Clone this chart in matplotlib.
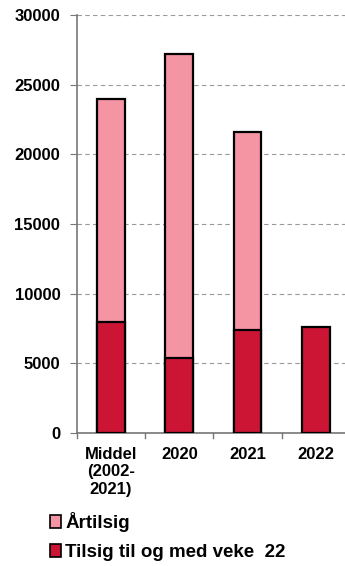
import numpy as np
import matplotlib
matplotlib.use("Agg")
import matplotlib.pyplot as plt
from matplotlib.patches import Patch

categories = ["Middel\n(2002-\n2021)", "2020", "2021", "2022"]
aartilsig = [24000, 27200, 21600, 0]
tilsig_veke22 = [8000, 5400, 7400, 7600]
yticks = [0, 5000, 10000, 15000, 20000, 25000, 30000]

plt.rcParams['font.family'] = ['Liberation Sans', 'DejaVu Sans']
plt.rcParams['font.weight'] = 'bold'
plt.rcParams['xtick.labelsize'] = 12
plt.rcParams['ytick.labelsize'] = 12

fig = plt.figure(figsize=(3.45, 5.66), dpi=100)
ax = fig.add_axes([77 / 345, 1 - 433 / 566, 1 - 77 / 345, 418 / 566])

x = np.arange(len(categories))
ax.bar(x, aartilsig, width=0.41, color='#F595A3', edgecolor='black', linewidth=1.6, zorder=3)
ax.bar(x, tilsig_veke22, width=0.41, color='#CC1535', edgecolor='black', linewidth=1.6, zorder=4)

ax.set_xlim(-0.5, 3.43)
ax.set_ylim(0, 30000)
ax.set_yticks(yticks)
ax.yaxis.grid(True, linestyle=(0, (4, 3)), color='#999999', linewidth=0.8, zorder=0)
ax.tick_params(axis='y', length=5, color='#777777', pad=7)
ax.set_xticks(x, categories, va='top', linespacing=1.2)
ax.tick_params(axis='x', length=0, pad=10)
for b in [-0.5, 0.5, 1.5, 2.5]:
    ax.axvline(b, ymin=-0.012, ymax=0, color='#777777', linewidth=1, clip_on=False)

for lab in ax.get_xticklabels() + ax.get_yticklabels():
    lab.set_fontweight('bold')
    lab.set_fontsize(12)

for s in ['top', 'right']:
    ax.spines[s].set_visible(False)
for s in ['left', 'bottom']:
    ax.spines[s].set_color('#777777')
    ax.spines[s].set_linewidth(1.2)

handles = [Patch(facecolor='#F595A3', edgecolor='black', linewidth=1.2, label='Årtilsig'),
           Patch(facecolor='#CC1535', edgecolor='black', linewidth=1.2, label='Tilsig til og med veke  22')]
fig.legend(handles=handles, loc='upper left', bbox_to_anchor=(50 / 345, 1 - 512 / 566),
           frameon=False, prop={'size': 13.5, 'weight': 'bold'}, handlelength=0.6, handleheight=0.7,
           handletextpad=0.2, labelspacing=0.65, borderaxespad=0, borderpad=0)

fig.savefig('out.png', dpi=100)
